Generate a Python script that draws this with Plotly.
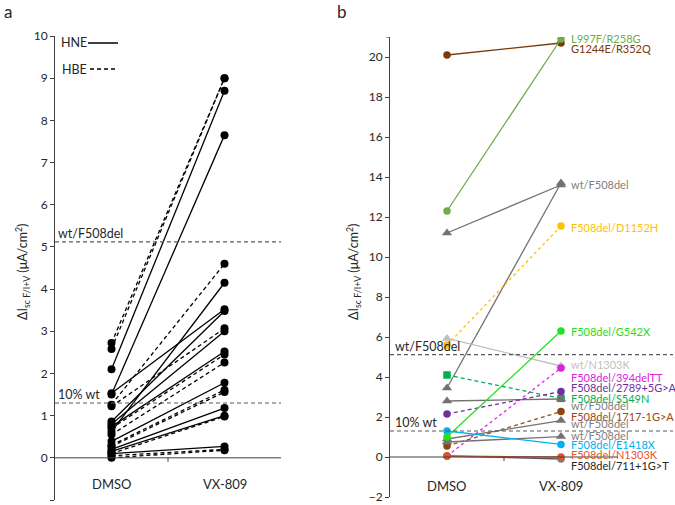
import plotly.graph_objects as go

W, H = 675, 505
FONT = "Lato"
TXT = "#262626"
AX = "#404040"

# ---------------- data ----------------
categories = ["DMSO", "VX-809"]

# panel a (HNE solid, HBE dashed)
dmso_hne = [2.10, 1.50, 1.53, 0.62, 0.86, 0.80, 0.74, 0.39, 0.20, 0.15, 0.10]
vx_hne = [8.70, 7.65, 3.52, 4.15, 3.48, 3.00, 2.52, 1.78, 1.18, 1.00, 0.27]
dmso_hbe = [2.72, 2.58, 1.26, 1.22, 0.70, 0.55, 0.30, 0.27, 0.10, 0.05, 0.00]
vx_hbe = [9.00, 9.00, 4.60, 3.07, 2.45, 2.26, 1.61, 1.56, 0.98, 0.20, 0.18]

ref_values = [5.12, 1.30]
ref_labels = ["wt/F508del", "10% wt"]

# panel b
genotypes = ["G1244E/R352Q", "L997F/R258G", "wt/F508del", "wt/F508del",
             "F508del/D1152H", "wt/N1303K", "F508del/S549N", "wt/F508del",
             "F508del/2789+5G>A", "F508del/394delTT", "F508del/1717-1G>A",
             "wt/F508del", "wt/F508del", "F508del/E1418X", "F508del/711+1G>T",
             "F508del/N1303K", "F508del/G542X"]
dmso_b = [20.1, 12.3, 11.2, 3.45, 5.6, 5.93, 4.1, 2.8, 2.15, 0.05, 0.55,
          0.9, 0.75, 1.3, 0.05, 0.05, 1.0]
vx_b = [20.7, 20.9, 13.6, 13.7, 11.55, 4.55, 2.93, 2.9, 3.27, 4.45, 2.27,
        1.82, 1.02, 0.63, -0.1, 0.0, 6.3]

# styles for panel b
line_colors = ["#7B3A0A", "#70AD47", "#767171", "#767171", "#FFC000", "#BFBFBF",
               "#00B050", "#767171", "#7030A0", "#E020E0", "#9C4A1A",
               "#767171", "#767171", "#00B0F0", "#595959", "#D9542A", "#22E022"]
text_colors = ["#7B3A0A", "#70AD47", "#808080", "#808080", "#FFC000", "#BFBFBF",
               "#00B050", "#808080", "#7030A0", "#E020E0", "#9C4A1A",
               "#808080", "#808080", "#00B0F0", "#262626", "#E8562A", "#22E022"]
marker_colors = ["#7B3A0A", "#70AD47", "#767171", "#767171", "#FFC000", "#BFBFBF",
                 "#00B050", "#767171", "#7030A0", "#E020E0", "#8B4513",
                 "#767171", "#767171", "#00B0F0", "#7F7F7F", "#D9542A", "#22E022"]
symbols = ["circle", "circle", "triangle-up", "triangle-up", "circle", "triangle-up",
           "square", "triangle-up", "circle", "circle", "circle",
           "triangle-up", "triangle-up", "circle", "circle", "circle", "circle"]
dashes = ["solid", "solid", "solid", "solid", "3px,3px", "solid",
          "4px,3px", "solid", "4px,3px", "3px,3px", "4px,3px",
          "solid", "solid", "solid", "solid", "solid", "solid"]
label_down_px = [6, 0, 0, 0, 2, -2, 0, 6, -4, 9, 5, 3, -1, 0, 6, -3, 0]
show_label = [True, True, True, False, True, True, True, True, True, True, True,
              True, True, True, True, True, True]

# ---------------- figure ----------------
fig = go.Figure()

for d, v in zip(dmso_hne, vx_hne):
    fig.add_trace(go.Scatter(x=categories, y=[d, v], mode="lines+markers",
                             line=dict(color="black", width=1.3),
                             marker=dict(color="black", size=8),
                             xaxis="x", yaxis="y", showlegend=False, hoverinfo="skip"))
for d, v in zip(dmso_hbe, vx_hbe):
    fig.add_trace(go.Scatter(x=categories, y=[d, v], mode="lines+markers",
                             line=dict(color="black", width=1.3, dash="4px,3px"),
                             marker=dict(color="black", size=8),
                             xaxis="x", yaxis="y", showlegend=False, hoverinfo="skip"))

for i, g in enumerate(genotypes):
    fig.add_trace(go.Scatter(x=categories, y=[dmso_b[i], vx_b[i]], mode="lines+markers",
                             line=dict(color=line_colors[i], width=1.3, dash=dashes[i]),
                             marker=dict(color=marker_colors[i],
                                         size=9 if symbols[i] == "triangle-up" else 7.5,
                                         symbol=symbols[i]),
                             xaxis="x2", yaxis="y2", showlegend=False, hoverinfo="skip"))


def px(x):
    return x / W


def py(y):
    return (H - y) / H


shapes = []
ann = []

# x-axis lines at y=0 with a middle tick
ax_a = (55, 281)
ax_b = (390, 618)
for (x0, x1), yref, tick_len in [(ax_a, "y", 4 / 42.2), (ax_b, "y2", 4 / 20.0)]:
    shapes.append(dict(type="line", xref="paper", yref=yref, x0=px(x0), x1=px(x1), y0=0, y1=0,
                       line=dict(color=AX, width=1)))
    xm = (x0 + x1) / 2
    shapes.append(dict(type="line", xref="paper", yref=yref, x0=px(xm), x1=px(xm), y0=0,
                       y1=-tick_len, line=dict(color=AX, width=1)))
# top tick of panel b axis
shapes.append(dict(type="line", xref="paper", yref="y2", x0=px(386), x1=px(390), y0=21, y1=21,
                   line=dict(color=AX, width=1)))

# reference lines
for val in ref_values:
    shapes.append(dict(type="line", xref="paper", yref="y", x0=px(55), x1=px(281), y0=val, y1=val,
                       line=dict(color="#595959", width=1.2, dash="4px,3px")))
    shapes.append(dict(type="line", xref="paper", yref="y2", x0=px(390), x1=px(673), y0=val,
                       y1=val, line=dict(color="#595959", width=1.2, dash="4px,3px")))
for val, lab in zip(ref_values, ref_labels):
    ann.append(dict(x=px(56), y=val, xref="paper", yref="y", text=lab, showarrow=False,
                    xanchor="left", yanchor="bottom", yshift=-1,
                    font=dict(size=12.5, color=TXT, family=FONT)))
    ann.append(dict(x=px(393), y=val, xref="paper", yref="y2", text=lab, showarrow=False,
                    xanchor="left", yanchor="bottom", yshift=-1,
                    font=dict(size=12.5, color=TXT, family=FONT)))

# legend panel a
shapes.append(dict(type="line", xref="paper", yref="paper", x0=px(88), x1=px(118), y0=py(43),
                   y1=py(43), line=dict(color="black", width=1.5)))
shapes.append(dict(type="line", xref="paper", yref="paper", x0=px(90), x1=px(118), y0=py(69),
                   y1=py(69), line=dict(color="black", width=1.5, dash="4px,3px")))
ann.append(dict(x=px(59), y=py(43), xref="paper", yref="paper", text="HNE", showarrow=False,
                xanchor="left", yanchor="middle", font=dict(size=12.5, color=TXT, family=FONT)))
ann.append(dict(x=px(60), y=py(69), xref="paper", yref="paper", text="HBE", showarrow=False,
                xanchor="left", yanchor="middle", font=dict(size=12.5, color=TXT, family=FONT)))

# category labels
for xa, ya, yv in [("x", "y", -0.62), ("x2", "y2", -1.45)]:
    for c in categories:
        ann.append(dict(x=c, y=yv, xref=xa, yref=ya, text=c, showarrow=False,
                        xanchor="center", yanchor="middle",
                        font=dict(size=13, color=TXT, family=FONT)))

# y titles
ytitle = "ΔI<sub>sc F/I+V</sub> (μA/cm<sup>2</sup>)"
for xp in [22, 353]:
    ann.append(dict(x=px(xp), y=py(272), xref="paper", yref="paper", text=ytitle,
                    showarrow=False, textangle=-90, xanchor="center", yanchor="middle",
                    font=dict(size=12.5, color=TXT, family=FONT)))

# panel letters
ann.append(dict(x=px(2), y=py(11), xref="paper", yref="paper", text="a", showarrow=False,
                xanchor="left", yanchor="middle", font=dict(size=17, color=TXT, family=FONT)))
ann.append(dict(x=px(335), y=py(11), xref="paper", yref="paper", text="b", showarrow=False,
                xanchor="left", yanchor="middle", font=dict(size=17, color=TXT, family=FONT)))

# genotype labels panel b
for i, g in enumerate(genotypes):
    if not show_label[i]:
        continue
    ann.append(dict(x=categories[1], y=vx_b[i], xref="x2", yref="y2", text=g, showarrow=False,
                    xanchor="left", yanchor="middle", xshift=8, yshift=-label_down_px[i],
                    font=dict(size=11, color=text_colors[i], family=FONT)))

fig.update_layout(
    width=W, height=H, margin=dict(l=0, r=0, t=0, b=0, autoexpand=False),
    paper_bgcolor="white", plot_bgcolor="white",
    font=dict(family=FONT, color=TXT, size=12),
    xaxis=dict(domain=[px(55), px(281)], type="category", categoryorder="array",
               categoryarray=categories, range=[-0.5, 1.5], showticklabels=False,
               ticks="", showgrid=False, zeroline=False, showline=False, fixedrange=True,
               automargin=False),
    yaxis=dict(domain=[py(500), py(36)], range=[-1, 10], dtick=1, tick0=0,
               showline=True, linecolor=AX, linewidth=1, ticks="outside", ticklen=4,
               tickcolor=AX, showgrid=False, zeroline=False, automargin=False,
               tickfont=dict(size=12, color=TXT, family=FONT)),
    xaxis2=dict(domain=[px(390), px(618)], type="category", categoryorder="array",
                categoryarray=categories, range=[-0.5, 1.5], showticklabels=False,
                ticks="", showgrid=False, zeroline=False, showline=False, fixedrange=True,
                anchor="y2", automargin=False),
    yaxis2=dict(domain=[py(497), py(37)], range=[-2, 21], dtick=2, tick0=0,
                showline=True, linecolor=AX, linewidth=1, ticks="outside", ticklen=4,
                tickcolor=AX, showgrid=False, zeroline=False, anchor="x2", automargin=False,
                tickfont=dict(size=12, color=TXT, family=FONT)),
    shapes=shapes, annotations=ann,
)

fig.write_html("out.html", config={"displayModeBar": False},
               post_script="document.body.style.margin='0';document.body.style.overflow='hidden';")
